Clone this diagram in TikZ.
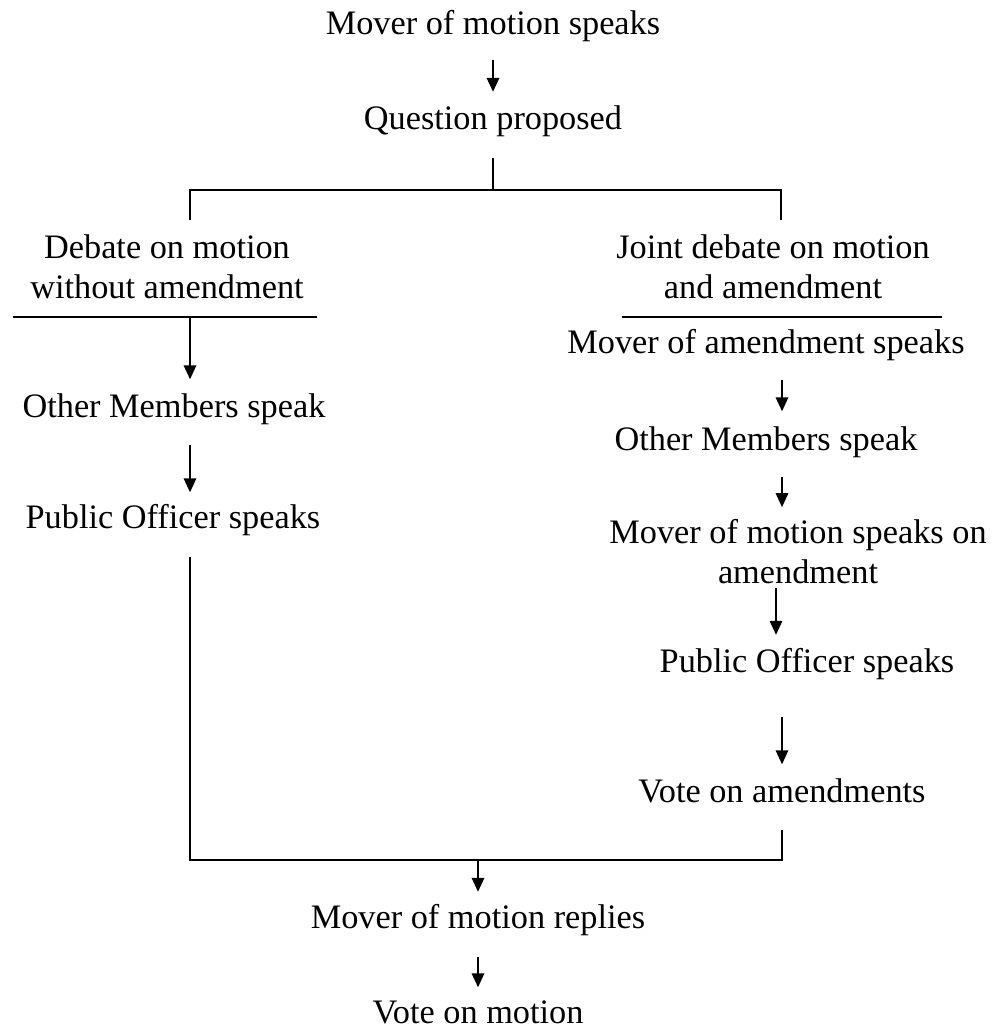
\documentclass[tikz,border=0pt]{standalone}
\usepackage{fontspec}
\setmainfont{Liberation Serif}
\usetikzlibrary{arrows.meta}

\begin{document}
\begin{tikzpicture}[x=1pt, y=-1pt, font=\fontsize{34.3}{40}\selectfont, >={Triangle[length=14pt, width=12.5pt]},
  stage/.style={inner sep=0pt, anchor=base, text height=23.5pt, text depth=7.5pt},
  head/.style={inner sep=0pt, anchor=base, align=center},
  flow/.style={->, line width=1.7pt},
  rule/.style={line width=2pt}]
\useasboundingbox (0,0) rectangle (994,1030);
% common start
\node[stage] (speak) at (493,35) {Mover of motion speaks};
\node[stage] (quest) at (493,129) {Question proposed};
\coordinate (split) at (493,190);
\coordinate (lfork) at (190,220); \coordinate (rfork) at (781,220);
\coordinate (lcol) at (190,0); \coordinate (rcol) at (782,0); \coordinate (rcolb) at (776,0);
\draw[flow, shorten <=17pt, shorten >=13.5pt] (speak) -- (quest);
\draw[rule, shorten <=21pt] (quest.south) -- (split);
\draw[rule] (lfork) |- (split) -| (rfork);
% ---- left branch: motion alone
\node[head] (plain) at (167,298) {Debate on motion\\without amendment};
\coordinate (lrulea) at (13,317); \coordinate (lruleb) at (317,317);
\draw[rule] (lrulea) -- (lruleb);
\node[stage] (lother) at (174,417) {Other Members speak};
\node[stage] (lpublic) at (173,528) {Public Officer speaks};
\draw[flow, shorten >=14pt] (lrulea -| lcol) -- (lother.north -| lcol);
\draw[flow, shorten <=20pt, shorten >=12pt] (lother.south -| lcol) -- (lpublic.north -| lcol);
% ---- right branch: motion and amendment
\node[head] (joint) at (773,298) {Joint debate on motion\\and amendment};
\coordinate (rrulea) at (622,317); \coordinate (rruleb) at (942,317);
\draw[rule] (rrulea) -- (rruleb);
\node[stage] (amover) at (766,353) {Mover of amendment speaks};
\node[stage] (rother) at (766,450) {Other Members speak};
\node[head] (monamd) at (798,583) {Mover of motion speaks on\\amendment};
\node[stage] (rpublic) at (807,672) {Public Officer speaks};
\node[stage] (amdvote) at (782,802) {Vote on amendments};
\draw[flow, shorten <=19.5pt, shorten >=15pt] (amover.south -| rcol) -- (rother.north -| rcol);
\draw[flow, shorten <=19.5pt, shorten >=11.5pt] (rother.south -| rcol) -- (monamd.north -| rcol);
\draw[flow, shorten <=4pt, shorten >=13.5pt] (monamd.south -| rcolb) -- (rpublic.north -| rcolb);
\draw[flow, shorten <=37.5pt, shorten >=14pt] (rpublic.south -| rcol) -- (amdvote.north -| rcol);
% ---- join and final vote
\coordinate (merge) at (478,860);
\draw[rule, shorten <=21pt, shorten >=20.5pt] (lpublic.south -| lcol) |- (merge) -| (amdvote.south -| rcol);
\node[stage] (reply) at (478,928) {Mover of motion replies};
\node[stage] (vote) at (478,1023) {Vote on motion};
\draw[flow, shorten >=12.5pt] (merge) -- (reply);
\draw[flow, shorten <=21.5pt, shorten >=12pt] (reply) -- (vote);
\end{tikzpicture}
\end{document}
